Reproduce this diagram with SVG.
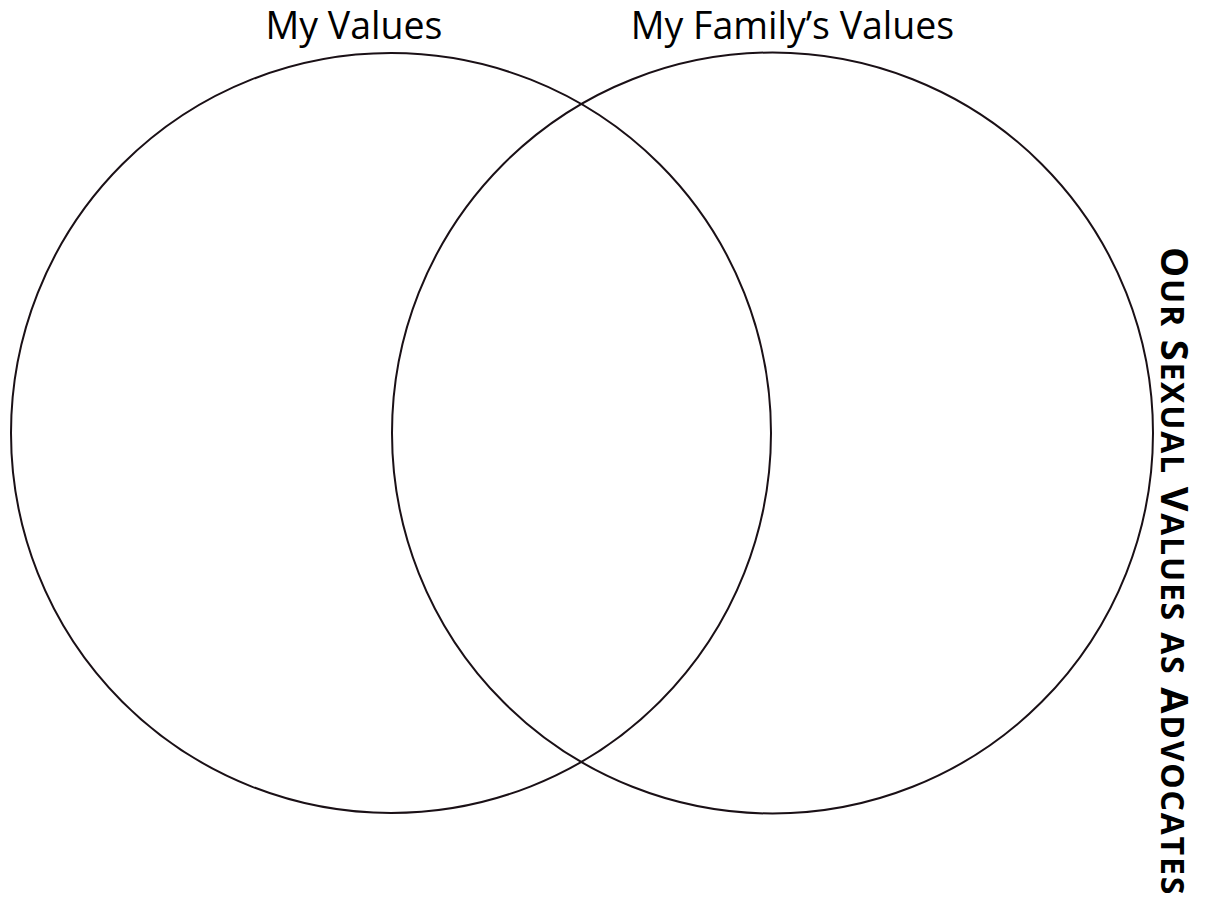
<svg xmlns="http://www.w3.org/2000/svg" width="1213" height="901" viewBox="0 0 1213 901">
<style>
.c{fill:none;stroke:#1a1016;stroke-width:2}
.lbl{font-family:"Open Sans","Liberation Sans",sans-serif;font-size:37.5px;fill:#000}
.side{font-family:"Open Sans","Liberation Sans",sans-serif;font-weight:bold;font-size:38px;letter-spacing:1.8px;fill:#000}
.sm{font-size:32px}
</style>
<rect width="1213" height="901" fill="#fff"/>
<g id="my-values">
<circle class="c" cx="391" cy="433" r="380"/>
<text class="lbl" x="354" y="39" text-anchor="middle">My Values</text>
</g>
<g id="family-values">
<circle class="c" cx="772.5" cy="433" r="380.5"/>
<text class="lbl" x="792.5" y="39" text-anchor="middle">My Family’s Values</text>
</g>
<g id="title">
<text class="side" transform="translate(1161,247) rotate(90)">O<tspan class="sm">UR</tspan> S<tspan class="sm">EXUAL</tspan> V<tspan class="sm">ALUES AS</tspan> A<tspan class="sm">DVOCATES</tspan></text>
</g>
<g id="connectors"></g>
</svg>
